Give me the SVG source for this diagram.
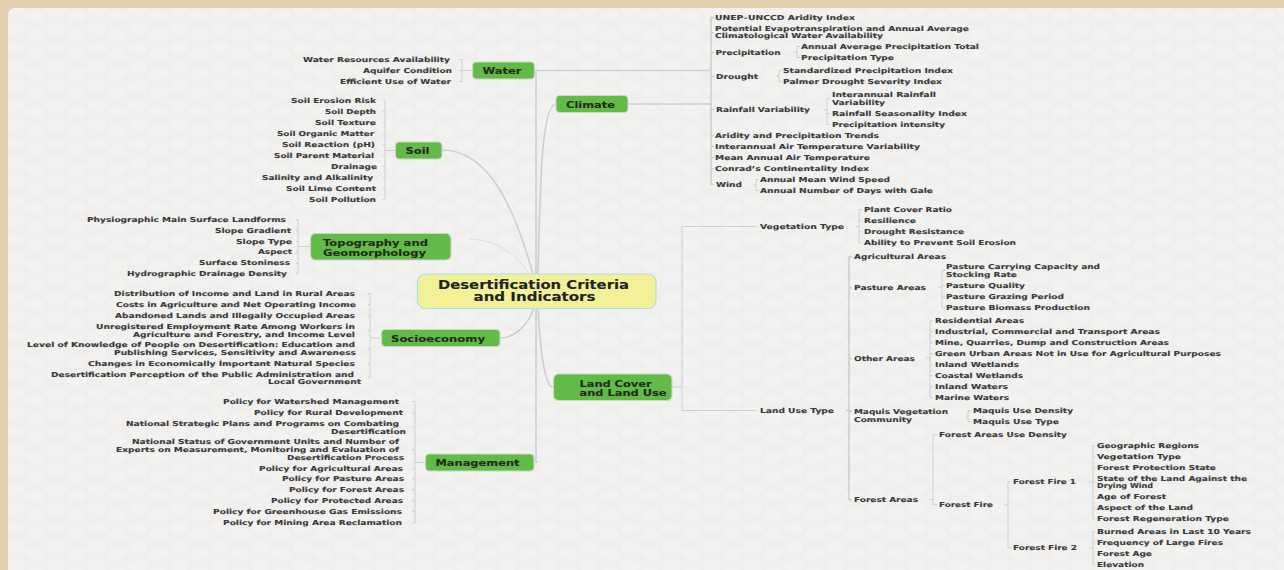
<svg xmlns="http://www.w3.org/2000/svg" width="1284" height="570" viewBox="0 0 1284 570">
<style>
text{font-family:"DejaVu Sans",Verdana,sans-serif;font-weight:700;font-size:6.8px;fill:#3a3a3a;stroke:#3a3a3a;stroke-width:.12;transform:translateY(-.8px)}
.n{font-size:8.8px;fill:#232a20;stroke:#232a20;transform:none}
.r{font-size:11.500px;fill:#222;stroke:#222;transform:translateY(-.4px)}
.node{fill:#62bb47;stroke:#c9d8c4;stroke-width:1.200}
.c{fill:none;stroke:#cccfd2;stroke-width:1}
.t{stroke-width:1.600}
</style>
<defs>
<pattern id="dots" width="41" height="19.200" patternUnits="userSpaceOnUse" x="5" y="3">
<ellipse cx="10" cy="6.500" rx="9.500" ry="6" fill="#f2f2f1"/><ellipse cx="30.500" cy="12.700" rx="9.500" ry="6" fill="#f2f2f1"/>
</pattern>
</defs>
<rect width="1284" height="570" fill="#e3d0b0"/>
<rect x="8" y="8" width="1300" height="580" rx="8" fill="#f0efee"/>
<rect x="8" y="8" width="1300" height="580" rx="8" fill="url(#dots)"/>
<g id="connectors">
<path class="c t" d="M536 274V71H534M534 70.500H710M628 104H710"/>
<path class="c t" d="M538 274C540 180 542 104 556 104"/>
<path class="c t" d="M442 150C490 150 515 210 533 274"/>
<path class="c" style="stroke:#dcdddd" d="M470 239C495 240 515 252 529 274"/>
<path class="c t" d="M500 338C515 338 528 325 534 308"/>
<path class="c t" d="M536 308V462H538"/>
<path class="c t" d="M538 308C540 350 545 387 553 387"/>
<path class="c" d="M672 387H682M682 226.500V410.500M682 226.500H756M682 410.500H756"/>
<path class="c" d="M459 59.500H462V81.500H459M459 70.500H472"/>
<path class="c" d="M383 100.500H385V199.500H383M383 111.500H385M383 122.500H385M383 133.500H385M383 144.500H385M383 155.500H385M383 166.500H385M383 177.500H385M383 188.500H385M385 150.500H395"/>
<path class="c" d="M296 219.500H298V274H296M296 230.500H298M296 241.500H298M296 252.500H298M296 263.500H298M298 246.500H310"/>
<path class="c" d="M368 293.500H370V378H368M368 304.500H370M368 315.500H370M368 330.500H370M368 349H370M368 363.700H370M370 338H381"/>
<path class="c" d="M412 401.500H415V523H412M412 412.700H415M412 427H415M412 449.700H415M412 468.700H415M412 478.700H415M412 489.700H415M412 500.700H415M412 511.700H415M415 462.500H425"/>
<path class="c t" d="M714 17.500H711V184.500H714M711 33H714M711 52.500H714M711 76.500H714M711 109.500H714M711 135.500H714M711 146.500H714M711 157.500H714M711 168.500H714"/>
<path class="c" d="M800 46.500H797V57.500H800M793 52H797"/>
<path class="c" d="M782 70.500H779V81.500H782M776 76H779"/>
<path class="c" d="M830 98H827V124.500H830M830 113.500H827M824 110H827"/>
<path class="c" d="M759 179.500H756V190.500H759M753 185H756"/>
<path class="c" d="M862 209.700H859V243H862M862 220.700H859M862 231.700H859M856 226.500H859"/>
<path class="c t" d="M852 256.700H849V499.700H852M852 287.700H849M852 358.700H849M852 411H849M846 410.500H849"/>
<path class="c" d="M945 270H942V307.700H945M945 285.700H942M945 296.700H942M938 287H942"/>
<path class="c" d="M933 320.700H930V397.700H933M933 331.700H930M933 342.700H930M933 353.700H930M933 364.700H930M933 375.700H930M933 386.700H930M926 358H930"/>
<path class="c" d="M971 410.700H968V421.700H971M965 416H968"/>
<path class="c" d="M937 434.700H933V504.700H937M930 499.500H933"/>
<path class="c" d="M1011 481.700H1008V547.700H1011M1004 505H1008"/>
<path class="c" d="M1095 445.700H1093V518.700H1095M1095 456.700H1093M1095 467.700H1093M1095 482H1093M1095 496.700H1093M1095 507.700H1093M1089 482H1093"/>
<path class="c" d="M1095 531.700H1093V564.700H1095M1095 542.700H1093M1095 553.700H1093M1089 548H1093"/>
</g>
<g id="root"><rect x="417.500" y="274" width="238.500" height="34.500" rx="8" fill="#f3f197" stroke="#aee0e0" stroke-width="1.200"/>
<text class="r" x="438" y="289.500" textLength="191" lengthAdjust="spacingAndGlyphs">Desertification Criteria</text>
<text class="r" x="473.500" y="301.500" textLength="122" lengthAdjust="spacingAndGlyphs">and Indicators</text></g>
<g id="water"><rect class="node" x="472.500" y="62" width="62" height="17" rx="4"/><text class="n" x="482.500" y="73.800" textLength="39" lengthAdjust="spacingAndGlyphs">Water</text>
<text x="303" y="62.500" textLength="147" lengthAdjust="spacingAndGlyphs">Water Resources Availability</text>
<text x="363" y="73.500" textLength="89" lengthAdjust="spacingAndGlyphs">Aquifer Condition</text>
<text x="340" y="84.500" textLength="111" lengthAdjust="spacingAndGlyphs">Efficient Use of Water</text></g>
<g id="soil"><rect class="node" x="395.500" y="142" width="46.500" height="17" rx="4"/><text class="n" x="405.500" y="153.800" textLength="24" lengthAdjust="spacingAndGlyphs">Soil</text>
<text x="291" y="103.500" textLength="85" lengthAdjust="spacingAndGlyphs">Soil Erosion Risk</text>
<text x="325" y="114.500" textLength="51" lengthAdjust="spacingAndGlyphs">Soil Depth</text>
<text x="315" y="125.500" textLength="61" lengthAdjust="spacingAndGlyphs">Soil Texture</text>
<text x="277" y="136.500" textLength="97" lengthAdjust="spacingAndGlyphs">Soil Organic Matter</text>
<text x="282" y="147.500" textLength="93" lengthAdjust="spacingAndGlyphs">Soil Reaction (pH)</text>
<text x="274" y="158.500" textLength="100" lengthAdjust="spacingAndGlyphs">Soil Parent Material</text>
<text x="331" y="169.500" textLength="46" lengthAdjust="spacingAndGlyphs">Drainage</text>
<text x="262" y="180.500" textLength="111" lengthAdjust="spacingAndGlyphs">Salinity and Alkalinity</text>
<text x="286" y="191.500" textLength="90" lengthAdjust="spacingAndGlyphs">Soil Lime Content</text>
<text x="309" y="202.500" textLength="67" lengthAdjust="spacingAndGlyphs">Soil Pollution</text></g>
<g id="topography"><rect class="node" x="310.500" y="233.500" width="140.500" height="26.500" rx="5"/>
<text class="n" x="323" y="245.500" textLength="105" lengthAdjust="spacingAndGlyphs">Topography and</text>
<text class="n" x="323" y="255.500" textLength="103" lengthAdjust="spacingAndGlyphs">Geomorphology</text>
<text x="87" y="222.500" textLength="199" lengthAdjust="spacingAndGlyphs">Physiographic Main Surface Landforms</text>
<text x="215" y="233.500" textLength="76" lengthAdjust="spacingAndGlyphs">Slope Gradient</text>
<text x="236" y="244.500" textLength="56" lengthAdjust="spacingAndGlyphs">Slope Type</text>
<text x="258" y="255" textLength="34" lengthAdjust="spacingAndGlyphs">Aspect</text>
<text x="199" y="266" textLength="91" lengthAdjust="spacingAndGlyphs">Surface Stoniness</text>
<text x="127" y="276.500" textLength="160" lengthAdjust="spacingAndGlyphs">Hydrographic Drainage Density</text></g>
<g id="socioeconomy"><rect class="node" x="381.500" y="329.500" width="118.500" height="17" rx="4"/><text class="n" x="391" y="341.500" textLength="94" lengthAdjust="spacingAndGlyphs">Socioeconomy</text>
<text x="114" y="296.500" textLength="241" lengthAdjust="spacingAndGlyphs">Distribution of Income and Land in Rural Areas</text>
<text x="116" y="307.500" textLength="240" lengthAdjust="spacingAndGlyphs">Costs in Agriculture and Net Operating Income</text>
<text x="115" y="318.500" textLength="240" lengthAdjust="spacingAndGlyphs">Abandoned Lands and Illegally Occupied Areas</text>
<text x="96" y="329.500" textLength="259" lengthAdjust="spacingAndGlyphs">Unregistered Employment Rate Among Workers in</text>
<text x="133" y="337.500" textLength="222" lengthAdjust="spacingAndGlyphs">Agriculture and Forestry, and Income Level</text>
<text x="27" y="347.700" textLength="328" lengthAdjust="spacingAndGlyphs">Level of Knowledge of People on Desertification: Education and</text>
<text x="114" y="355.700" textLength="242" lengthAdjust="spacingAndGlyphs">Publishing Services, Sensitivity and Awareness</text>
<text x="88" y="366.700" textLength="267" lengthAdjust="spacingAndGlyphs">Changes in Economically İmportant Natural Species</text>
<text x="51" y="377.700" textLength="303" lengthAdjust="spacingAndGlyphs">Desertification Perception of the Public Administration and</text>
<text x="268" y="384.700" textLength="93" lengthAdjust="spacingAndGlyphs">Local Government</text></g>
<g id="management"><rect class="node" x="425.500" y="454" width="108.500" height="17" rx="4"/><text class="n" x="435.500" y="466" textLength="84" lengthAdjust="spacingAndGlyphs">Management</text>
<text x="223" y="404.700" textLength="176" lengthAdjust="spacingAndGlyphs">Policy for Watershed Management</text>
<text x="254" y="415.700" textLength="149" lengthAdjust="spacingAndGlyphs">Policy for Rural Development</text>
<text x="126" y="426.700" textLength="273" lengthAdjust="spacingAndGlyphs">National Strategic Plans and Programs on Combating</text>
<text x="331" y="434.700" textLength="75" lengthAdjust="spacingAndGlyphs">Desertification</text>
<text x="132" y="444.700" textLength="267" lengthAdjust="spacingAndGlyphs">National Status of Government Units and Number of</text>
<text x="116" y="452.700" textLength="283" lengthAdjust="spacingAndGlyphs">Experts on Measurement, Monitoring and Evaluation of</text>
<text x="287" y="460.700" textLength="117" lengthAdjust="spacingAndGlyphs">Desertification Process</text>
<text x="259" y="471.700" textLength="144" lengthAdjust="spacingAndGlyphs">Policy for Agricultural Areas</text>
<text x="282" y="481.700" textLength="122" lengthAdjust="spacingAndGlyphs">Policy for Pasture Areas</text>
<text x="289" y="492.700" textLength="115" lengthAdjust="spacingAndGlyphs">Policy for Forest Areas</text>
<text x="271" y="503.700" textLength="132" lengthAdjust="spacingAndGlyphs">Policy for Protected Areas</text>
<text x="213" y="514.700" textLength="189" lengthAdjust="spacingAndGlyphs">Policy for Greenhouse Gas Emissions</text>
<text x="223" y="525.700" textLength="179" lengthAdjust="spacingAndGlyphs">Policy for Mining Area Reclamation</text></g>
<g id="climate"><rect class="node" x="556" y="95.500" width="72" height="17" rx="4"/><text class="n" x="566" y="107.500" textLength="49" lengthAdjust="spacingAndGlyphs">Climate</text>
<text x="715" y="20.500" textLength="140" lengthAdjust="spacingAndGlyphs">UNEP–UNCCD Aridity Index</text>
<text x="715" y="32" textLength="254" lengthAdjust="spacingAndGlyphs">Potential Evapotranspiration and Annual Average</text>
<text x="715" y="39" textLength="168" lengthAdjust="spacingAndGlyphs">Climatological Water Availability</text>
<text x="715.500" y="55.500" textLength="65" lengthAdjust="spacingAndGlyphs">Precipitation</text>
<text x="801" y="49.500" textLength="178" lengthAdjust="spacingAndGlyphs">Annual Average Precipitation Total</text>
<text x="801" y="60.500" textLength="93" lengthAdjust="spacingAndGlyphs">Precipitation Type</text>
<text x="716" y="79.500" textLength="42" lengthAdjust="spacingAndGlyphs">Drought</text>
<text x="783" y="73.500" textLength="170" lengthAdjust="spacingAndGlyphs">Standardized Precipitation Index</text>
<text x="783" y="84.500" textLength="159" lengthAdjust="spacingAndGlyphs">Palmer Drought Severity Index</text>
<text x="716" y="112.500" textLength="94" lengthAdjust="spacingAndGlyphs">Rainfall Variability</text>
<text x="832" y="97.500" textLength="104" lengthAdjust="spacingAndGlyphs">Interannual Rainfall</text>
<text x="832" y="105.500" textLength="53" lengthAdjust="spacingAndGlyphs">Variability</text>
<text x="832" y="116.500" textLength="135" lengthAdjust="spacingAndGlyphs">Rainfall Seasonality Index</text>
<text x="832" y="127.500" textLength="113" lengthAdjust="spacingAndGlyphs">Precipitation intensity</text>
<text x="715" y="138.500" textLength="164" lengthAdjust="spacingAndGlyphs">Aridity and Precipitation Trends</text>
<text x="715" y="149.500" textLength="205" lengthAdjust="spacingAndGlyphs">Interannual Air Temperature Variability</text>
<text x="715" y="160.500" textLength="155" lengthAdjust="spacingAndGlyphs">Mean Annual Air Temperature</text>
<text x="715" y="171.500" textLength="154" lengthAdjust="spacingAndGlyphs">Conrad’s Continentality Index</text>
<text x="716" y="187.500" textLength="26" lengthAdjust="spacingAndGlyphs">Wind</text>
<text x="760" y="182.500" textLength="130" lengthAdjust="spacingAndGlyphs">Annual Mean Wind Speed</text>
<text x="760" y="193.500" textLength="173" lengthAdjust="spacingAndGlyphs">Annual Number of Days with Gale</text></g>
<g id="landcover"><rect class="node" x="553.500" y="374" width="118.500" height="26.500" rx="5"/>
<text class="n" x="579.500" y="386.500" textLength="72" lengthAdjust="spacingAndGlyphs">Land Cover</text>
<text class="n" x="579.500" y="395.500" textLength="87" lengthAdjust="spacingAndGlyphs">and Land Use</text>
<text x="760" y="229.500" textLength="84" lengthAdjust="spacingAndGlyphs">Vegetation Type</text>
<text x="864" y="212.700" textLength="88" lengthAdjust="spacingAndGlyphs">Plant Cover Ratio</text>
<text x="864" y="223.700" textLength="52" lengthAdjust="spacingAndGlyphs">Resilience</text>
<text x="864" y="234.700" textLength="100" lengthAdjust="spacingAndGlyphs">Drought Resistance</text>
<text x="864" y="245.700" textLength="152" lengthAdjust="spacingAndGlyphs">Ability to Prevent Soil Erosion</text>
<text x="760" y="413.500" textLength="74" lengthAdjust="spacingAndGlyphs">Land Use Type</text>
<text x="854" y="259.700" textLength="92" lengthAdjust="spacingAndGlyphs">Agricultural Areas</text>
<text x="854" y="290.700" textLength="72" lengthAdjust="spacingAndGlyphs">Pasture Areas</text>
<text x="946" y="269.700" textLength="154" lengthAdjust="spacingAndGlyphs">Pasture Carrying Capacity and</text>
<text x="946" y="277.700" textLength="71" lengthAdjust="spacingAndGlyphs">Stocking Rate</text>
<text x="946" y="288.700" textLength="79" lengthAdjust="spacingAndGlyphs">Pasture Quality</text>
<text x="946" y="299.700" textLength="118" lengthAdjust="spacingAndGlyphs">Pasture Grazing Period</text>
<text x="946" y="310.700" textLength="144" lengthAdjust="spacingAndGlyphs">Pasture Biomass Production</text>
<text x="854" y="361.700" textLength="61" lengthAdjust="spacingAndGlyphs">Other Areas</text>
<text x="935" y="323.700" textLength="89" lengthAdjust="spacingAndGlyphs">Residential Areas</text>
<text x="935" y="334.700" textLength="225" lengthAdjust="spacingAndGlyphs">Industrial, Commercial and Transport Areas</text>
<text x="935" y="345.700" textLength="234" lengthAdjust="spacingAndGlyphs">Mine, Quarries, Dump and Construction Areas</text>
<text x="935" y="356.700" textLength="286" lengthAdjust="spacingAndGlyphs">Green Urban Areas Not in Use for Agricultural Purposes</text>
<text x="935" y="367.700" textLength="84" lengthAdjust="spacingAndGlyphs">Inland Wetlands</text>
<text x="935" y="378.700" textLength="88" lengthAdjust="spacingAndGlyphs">Coastal Wetlands</text>
<text x="935" y="389.700" textLength="73" lengthAdjust="spacingAndGlyphs">Inland Waters</text>
<text x="935" y="400.700" textLength="74" lengthAdjust="spacingAndGlyphs">Marine Waters</text>
<text x="854" y="414.700" textLength="94" lengthAdjust="spacingAndGlyphs">Maquis Vegetation</text>
<text x="854" y="422.700" textLength="58" lengthAdjust="spacingAndGlyphs">Community</text>
<text x="973" y="413.700" textLength="100" lengthAdjust="spacingAndGlyphs">Maquis Use Density</text>
<text x="973" y="424.700" textLength="86" lengthAdjust="spacingAndGlyphs">Maquis Use Type</text>
<text x="854" y="502.700" textLength="64" lengthAdjust="spacingAndGlyphs">Forest Areas</text>
<text x="939" y="437.700" textLength="128" lengthAdjust="spacingAndGlyphs">Forest Areas Use Density</text>
<text x="939" y="507.700" textLength="54" lengthAdjust="spacingAndGlyphs">Forest Fire</text>
<text x="1013" y="484.700" textLength="63" lengthAdjust="spacingAndGlyphs">Forest Fire 1</text>
<text x="1013" y="550.700" textLength="64" lengthAdjust="spacingAndGlyphs">Forest Fire 2</text>
<text x="1097" y="448.700" textLength="102" lengthAdjust="spacingAndGlyphs">Geographic Regions</text>
<text x="1097" y="459.700" textLength="84" lengthAdjust="spacingAndGlyphs">Vegetation Type</text>
<text x="1097" y="470.700" textLength="119" lengthAdjust="spacingAndGlyphs">Forest Protection State</text>
<text x="1097" y="481.700" textLength="150" lengthAdjust="spacingAndGlyphs">State of the Land Against the</text>
<text x="1097" y="488.700" textLength="56" lengthAdjust="spacingAndGlyphs">Drying Wind</text>
<text x="1097" y="499.700" textLength="69" lengthAdjust="spacingAndGlyphs">Age of Forest</text>
<text x="1097" y="510.700" textLength="96" lengthAdjust="spacingAndGlyphs">Aspect of the Land</text>
<text x="1097" y="521.700" textLength="132" lengthAdjust="spacingAndGlyphs">Forest Regeneration Type</text>
<text x="1097" y="534.700" textLength="154" lengthAdjust="spacingAndGlyphs">Burned Areas in Last 10 Years</text>
<text x="1097" y="545.700" textLength="126" lengthAdjust="spacingAndGlyphs">Frequency of Large Fires</text>
<text x="1097" y="556.700" textLength="55" lengthAdjust="spacingAndGlyphs">Forest Age</text>
<text x="1097" y="567.700" textLength="47" lengthAdjust="spacingAndGlyphs">Elevation</text></g>
</svg>
